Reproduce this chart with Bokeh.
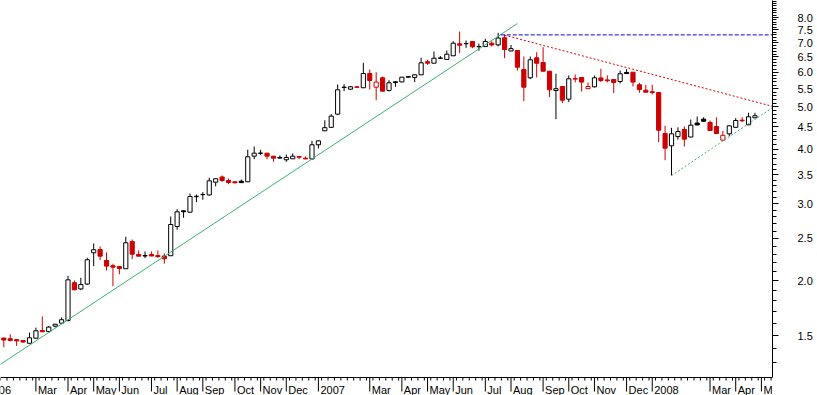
import numpy as np
from bokeh.plotting import figure
from bokeh.models import (Range1d, FixedTicker, NumeralTickFormatter, ColumnDataSource, Span)
from bokeh.core.properties import value
from bokeh.embed import file_html
from bokeh.resources import INLINE

# ---- weekly OHLC ----
opens = [1.48, 1.475, 1.468, 1.461, 1.44, 1.479, 1.54, 1.532, 1.576, 1.601,
         1.624, 1.981, 1.917, 1.967, 2.319, 2.359, 2.227, 2.166, 2.157, 2.132,
         2.461, 2.298, 2.28, 2.298, 2.285, 2.28, 2.283, 2.663, 2.892, 2.871,
         3.115, 3.148, 3.144, 3.362, 3.456, 3.392, 3.37, 3.38, 3.37, 3.856,
         3.912, 3.917, 3.856, 3.83, 3.783, 3.803, 3.85, 3.815, 3.80, 4.094,
         4.407, 4.488, 4.81, 5.535, 5.486, 5.555, 5.526, 5.958, 5.544, 5.824,
         5.448, 5.703, 5.70, 5.86, 5.836, 5.917, 6.337, 6.29, 6.455, 6.414,
         6.54, 6.966, 6.97, 7.051, 6.86, 6.864, 6.988, 6.925, 7.19, 6.707,
         6.725, 6.082, 5.824, 6.471, 6.313, 6.03, 5.448, 5.563, 5.205, 5.80,
         5.832, 5.50, 5.555, 5.82, 5.76, 5.772, 5.712, 5.99, 5.999, 5.615,
         5.457, 5.41, 5.391, 4.345, 4.072, 4.274, 4.437, 4.265, 4.59, 4.684,
         4.603, 4.507, 4.195, 4.337, 4.488, 4.66, 4.548, 4.719]
highs = [1.485, 1.51, 1.47, 1.462, 1.524, 1.564, 1.659, 1.578, 1.595, 1.65,
         2.054, 2.004, 2.033, 2.258, 2.435, 2.397, 2.323, 2.189, 2.16, 2.523,
         2.487, 2.347, 2.335, 2.335, 2.347, 2.31, 2.807, 2.917, 2.895, 3.168,
         3.152, 3.19, 3.443, 3.43, 3.483, 3.428, 3.372, 3.41, 3.988, 4.058,
         3.988, 3.925, 3.86, 3.87, 3.89, 3.91, 3.855, 3.85, 4.18, 4.19,
         4.657, 4.81, 5.623, 5.632, 5.58, 5.56, 6.303, 6.085, 5.999, 5.863,
         5.751, 5.71, 5.85, 5.87, 5.93, 6.471, 6.404, 6.69, 6.53, 6.725,
         7.062, 7.432, 7.088, 7.06, 6.97, 7.152, 7.062, 7.38, 7.315, 6.925,
         6.73, 6.516, 6.516, 6.665, 6.843, 6.04, 5.95, 5.57, 5.898, 5.93,
         5.84, 5.684, 5.898, 6.107, 5.898, 5.78, 6.053, 6.094, 6.0, 5.673,
         5.615, 5.615, 5.40, 4.524, 4.477, 4.488, 4.51, 4.677, 4.751, 4.73,
         4.652, 4.727, 4.407, 4.53, 4.71, 4.735, 4.845, 4.845]
lows = [1.41, 1.455, 1.42, 1.443, 1.44, 1.475, 1.528, 1.524, 1.565, 1.598,
        1.615, 1.905, 1.904, 1.957, 2.161, 2.231, 2.112, 1.945, 2.071, 2.13,
        2.242, 2.275, 2.254, 2.278, 2.258, 2.19, 2.28, 2.617, 2.788, 2.865,
        3.027, 3.065, 3.131, 3.29, 3.367, 3.327, 3.339, 3.35, 3.365, 3.795,
        3.876, 3.795, 3.743, 3.81, 3.743, 3.80, 3.795, 3.795, 3.79, 4.015,
        4.40, 4.48, 4.785, 5.428, 5.47, 5.535, 5.52, 5.477, 5.177, 5.42,
        5.42, 5.555, 5.69, 5.84, 5.694, 5.91, 6.237, 6.285, 6.43, 6.41,
        6.53, 6.63, 6.82, 6.807, 6.715, 6.86, 6.864, 6.87, 6.457, 6.70,
        6.053, 5.15, 5.784, 5.836, 6.02, 5.26, 4.684, 5.099, 5.125, 5.684,
        5.42, 5.49, 5.535, 5.694, 5.684, 5.371, 5.651, 5.95, 5.563, 5.383,
        5.39, 5.335, 4.15, 3.775, 3.483, 4.206, 4.057, 4.26, 4.539, 4.62,
        4.41, 4.33, 4.19, 4.281, 4.48, 4.611, 4.54, 4.71]
closes = [1.465, 1.462, 1.458, 1.45, 1.482, 1.538, 1.53, 1.568, 1.592, 1.63,
          2.011, 1.908, 1.963, 2.235, 2.356, 2.278, 2.162, 2.150, 2.135, 2.444,
          2.302, 2.278, 2.285, 2.28, 2.272, 2.247, 2.691, 2.877, 2.878, 3.119,
          3.122, 3.152, 3.387, 3.424, 3.392, 3.357, 3.352, 3.354, 3.843, 3.917,
          3.92, 3.856, 3.815, 3.817, 3.829, 3.856, 3.835, 3.80, 4.094, 4.18,
          4.48, 4.76, 5.468, 5.545, 5.555, 5.54, 5.958, 5.742, 5.694, 5.428,
          5.673, 5.68, 5.843, 5.845, 5.917, 6.303, 6.29, 6.457, 6.465, 6.595,
          6.988, 6.915, 6.975, 6.857, 6.865, 7.051, 6.925, 7.181, 6.76, 6.79,
          6.159, 5.544, 6.404, 6.29, 6.03, 5.468, 5.50, 5.177, 5.794, 5.785,
          5.694, 5.563, 5.824, 5.742, 5.735, 5.684, 5.949, 5.955, 5.694, 5.477,
          5.40, 5.392, 4.42, 4.021, 4.337, 4.391, 4.217, 4.539, 4.545, 4.635,
          4.414, 4.345, 4.303, 4.524, 4.652, 4.645, 4.744, 4.77]

# month axis: label and the weekly bar where the month starts
month_labels = ["2006", "Mar", "Apr", "May", "Jun", "Jul", "Aug", "Sep", "Oct", "Nov", "Dec",
                "2007", "Mar", "Apr", "May", "Jun", "Jul", "Aug", "Sep", "Oct", "Nov", "Dec",
                "2008", "Mar", "Apr", "M"]
month_bars = [-3, 5, 10, 14, 18, 23, 27, 31, 36, 40, 44,
              49, 57, 62, 66, 70, 75, 79, 84, 88, 92, 97,
              101, 110, 114, 118]

# price axis labels
y_major = [1.5, 2.0, 2.5, 3.0, 3.5, 4.0, 4.5, 5.0, 5.5, 6.0, 6.5, 7.0, 7.5, 8.0]

# trend lines (bar index, price)
support_x, support_y = [-0.6, 80], [1.287, 7.75]
resist_x, resist_y = [77.4, 120], [7.30, 7.30]
down_x, down_y = [78, 120], [7.29, 5.0]
up_x, up_y = [104, 120], [3.48, 5.01]

RED = "#cc0000"
BLACK = "#000000"
FONT = "Liberation Sans"

# price at the x-axis line and pixels per unit of ln(price)
Y_LOW, Y_HIGH = 1.2027, 8.749
PX_PER_LN = 190.0


def below_axis(px):
    """price that lies px screen pixels below the x-axis line"""
    return Y_LOW * np.exp(-px / PX_PER_LN)


n = len(closes)
idx = list(range(n))
prev_close = [opens[0]] + closes[:-1]
line_col = [RED if c < pc else BLACK for c, pc in zip(closes, prev_close)]
fill_col = [lc if c < o else "white" for c, o, lc in zip(closes, opens, line_col)]
src = ColumnDataSource(dict(
    x=idx, high=highs, low=lows,
    top=[max(o, c) for o, c in zip(opens, closes)],
    bottom=[min(o, c) for o, c in zip(opens, closes)],
    line=line_col, fill=fill_col))

p = figure(frame_width=772, frame_height=395, y_axis_type="log", y_axis_location="right",
           x_axis_location=None,
           x_range=Range1d(-0.514, 119.73), y_range=Range1d(below_axis(18), Y_HIGH),
           output_backend="svg", toolbar_location=None,
           min_border_left=0, min_border_top=0, min_border_right=45, min_border_bottom=0)
p.outline_line_color = None
p.grid.visible = False
p.background_fill_color = "white"
p.border_fill_color = "white"

# candles
p.segment(x0="x", y0="low", x1="x", y1="high", line_color="line", line_width=1, source=src)
p.vbar(x="x", width=0.65, top="top", bottom="bottom", fill_color="fill",
       line_color="line", line_width=1, source=src)

# trend lines
p.line(support_x, support_y, line_color="#3cb371", line_width=1)
p.line(resist_x, resist_y, line_color="#0000ee", line_width=1, line_dash="4 2")
p.line(down_x, down_y, line_color="#e00000", line_width=1, line_dash="2 2")
p.line(up_x, up_y, line_color="#3cb371", line_width=1, line_dash="2 2")

# right price axis
ya = p.yaxis[0]
ya.bounds = (Y_LOW, Y_HIGH)
ya.ticker = FixedTicker(ticks=y_major,
                        minor_ticks=[round(v / 10, 1) for v in range(13, 88)])
ya.formatter = NumeralTickFormatter(format="0.0")
ya.major_tick_out = 6
ya.major_tick_in = 0
ya.minor_tick_out = 4
ya.minor_tick_in = 0
ya.major_label_standoff = 19
ya.major_label_text_font = FONT
ya.major_label_text_font_size = "11px"
ya.major_label_text_color = "black"
ya.axis_line_color = "black"

# bottom time axis: line, weekly ticks, month ticks and labels
p.add_layout(Span(location=Y_LOW, dimension="width", line_color="black", line_width=1))
week_edges = [i + 0.5 for i in range(-1, 120)]
p.segment(x0=week_edges, x1=week_edges, y0=[Y_LOW] * len(week_edges),
          y1=[below_axis(3)] * len(week_edges), line_color="black", line_width=1)
p.segment(x0=month_bars, x1=month_bars, y0=[Y_LOW] * len(month_bars),
          y1=[below_axis(14)] * len(month_bars), line_color="black", line_width=1)
p.text(x=month_bars, y=[below_axis(12)] * len(month_bars), text=month_labels,
       x_offset=2, text_align="left", text_baseline="alphabetic",
       text_font=value(FONT), text_font_size="11px", text_color="black")

open("out.html", "w").write(file_html(p, INLINE))
